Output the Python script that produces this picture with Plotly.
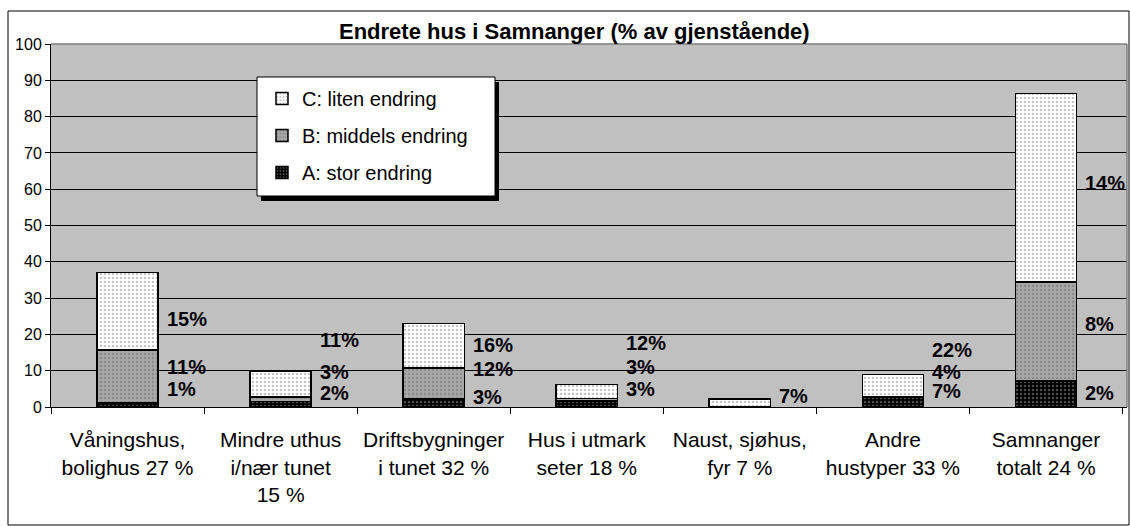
import plotly.graph_objects as go

# ---------------- data ----------------
categories = [
    "Våningshus,<br>bolighus 27 %",
    "Mindre uthus<br>i/nær tunet<br>15 %",
    "Driftsbygninger<br>i tunet 32 %",
    "Hus i utmark<br>seter 18 %",
    "Naust, sjøhus,<br>fyr 7 %",
    "Andre<br>hustyper 33 %",
    "Samnanger<br>totalt 24 %",
]
stor_endring = [1.2, 1.5, 2.2, 1.7, 0.0, 2.8, 7.2]        # A
middels_endring = [14.5, 1.2, 8.6, 0.7, 0.0, 0.0, 27.3]   # B
liten_endring = [21.3, 7.2, 12.2, 3.8, 2.2, 6.2, 51.9]    # C

labels_a = ["1%", "2%", "3%", "3%", "", "7%", "2%"]
labels_b = ["11%", "3%", "12%", "3%", "", "4%", "8%"]
labels_c = ["15%", "11%", "16%", "12%", "7%", "22%", "14%"]

# label anchor heights (in axis units), as placed in the original chart
label_y_a = [5.0, 3.9, 2.8, 5.0, None, 4.3, 3.9]
label_y_b = [11.1, 9.7, 10.5, 11.1, None, 9.6, 22.9]
label_y_c = [24.2, 18.5, 17.1, 17.5, 3.1, 15.6, 61.8]

series_names = ["A: stor endring", "B: middels endring", "C: liten endring"]
title_text = "Endrete hus i Samnanger (% av gjenstående)"

# ---------------- figure ----------------
FONT = "Liberation Sans, Arial, sans-serif"
W, H = 1130, 526
L, R, T, B = 51, 3, 44, 119
PW, PH = W - L - R, H - T - B


def px_x(px):
    return (px - L) / PW


def px_y(py):
    return (H - B - py) / PH


styles = [
    dict(color="#000000", fg="#9a9a9a", size=4, sol=0.3, rank=3),
    dict(color="#a8a8a8", fg="#6e6e6e", size=4, sol=0.3, rank=2),
    dict(color="#ffffff", fg="#8c8c8c", size=4, sol=0.3, rank=1),
]
values = [stor_endring, middels_endring, liten_endring]

fig = go.Figure()
for name, vals, st in zip(series_names, values, styles):
    fig.add_trace(go.Bar(
        x=categories, y=vals, name=name, legendgroup=name,
        legendrank=st["rank"],
        marker=dict(
            color=st["color"],
            line=dict(color="#000000", width=1.5),
            pattern=dict(shape=".", fgcolor=st["fg"], size=st["size"],
                         solidity=st["sol"]),
        ),
        hoverinfo="skip",
    ))

annotations = []
for lbls, ys in ((labels_a, label_y_a), (labels_b, label_y_b), (labels_c, label_y_c)):
    for cat, txt, yy in zip(categories, lbls, ys):
        if not txt or yy is None:
            continue
        annotations.append(dict(
            x=cat, y=yy, xref="x", yref="y", text="<b>" + txt + "</b>",
            showarrow=False, xanchor="left", yanchor="middle", xshift=37,
            font=dict(family=FONT, size=20, color="#000000"),
        ))

annotations.append(dict(
    x=px_x(574), y=px_y(31.5), xref="paper", yref="paper",
    text="<b>" + title_text + "</b>", showarrow=False,
    xanchor="center", yanchor="middle",
    font=dict(family=FONT, size=22, color="#000000"),
))

shapes = [
    # outer chart frame
    dict(type="rect", xref="paper", yref="paper",
         x0=px_x(8), x1=px_x(1129), y0=px_y(525), y1=px_y(11),
         line=dict(color="#000000", width=1), fillcolor="rgba(0,0,0,0)", layer="below"),
    # plot area top / right border
    dict(type="line", xref="paper", yref="paper", x0=0, x1=1, y0=1, y1=1,
         line=dict(color="#808080", width=1.5), layer="above"),
    dict(type="line", xref="paper", yref="paper", x0=1, x1=1, y0=0, y1=1,
         line=dict(color="#808080", width=1.5), layer="above"),
    # legend shadow and box
    dict(type="rect", xref="paper", yref="paper",
         x0=px_x(261), x1=px_x(499), y0=px_y(201), y1=px_y(82),
         line=dict(width=0), fillcolor="#000000", layer="above"),
    dict(type="rect", xref="paper", yref="paper",
         x0=px_x(257), x1=px_x(495), y0=px_y(196), y1=px_y(77),
         line=dict(color="#000000", width=1), fillcolor="#ffffff", layer="above"),
]

fig.update_layout(
    width=W, height=H,
    margin=dict(l=L, r=R, t=T, b=B, pad=0, autoexpand=False),
    paper_bgcolor="#ffffff",
    plot_bgcolor="#c0c0c0",
    barmode="stack",
    bargap=0.6,
    font=dict(family=FONT, color="#000000"),
    showlegend=True,
    legend=dict(
        x=px_x(262), y=px_y(79), xanchor="left", yanchor="top",
        bgcolor="rgba(0,0,0,0)", borderwidth=0,
        traceorder="grouped", tracegroupgap=8,
        font=dict(family=FONT, size=20, color="#000000"),
        itemclick=False, itemdoubleclick=False,
    ),
    annotations=annotations,
    shapes=shapes,
)

fig.update_xaxes(
    type="category", tickson="boundaries", ticks="outside", ticklen=6,
    tickcolor="#000000", showline=True, linecolor="#000000", linewidth=1,
    showgrid=False, tickangle=0, ticklabelstandoff=14,
    tickfont=dict(family=FONT, size=21, color="#000000"),
)
fig.update_yaxes(
    range=[0, 100], tick0=0, dtick=10, ticks="outside", ticklen=5,
    tickcolor="#000000", showline=True, linecolor="#000000", linewidth=1,
    showgrid=True, gridcolor="#000000", gridwidth=1, zeroline=False,
    tickfont=dict(family=FONT, size=16, color="#000000"),
)

fig.write_html(
    "out.html",
    config={"displayModeBar": False, "staticPlot": True},
    post_script="document.body.style.margin='0';document.body.style.overflow='hidden';",
)
